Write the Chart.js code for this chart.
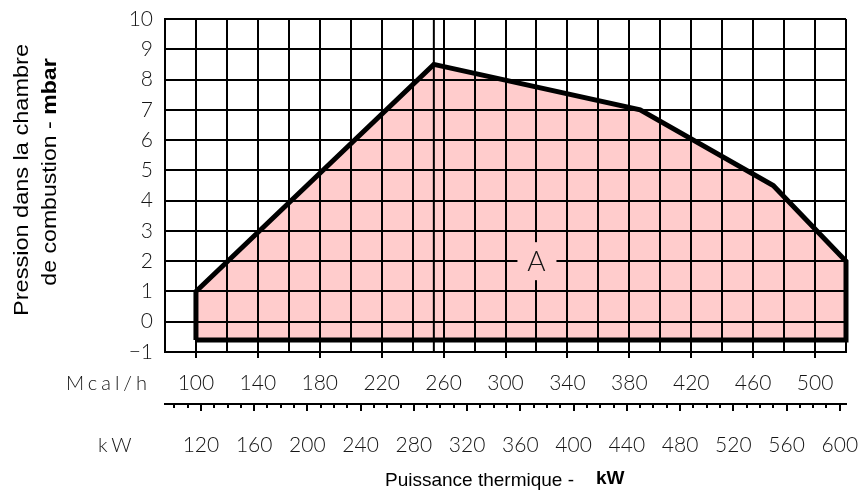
<!DOCTYPE html>
<html>
<head>
<meta charset="utf-8">
<script src="https://cdn.jsdelivr.net/npm/chart.js@4.4.1/dist/chart.umd.min.js"></script>
<style>
  html, body { margin: 0; padding: 0; background: #fff; }
  #wrap { width: 863px; height: 491px; }
</style>
</head>
<body>
<div id="wrap"><canvas id="chart" width="863" height="491"></canvas></div>
<script>
// working range of the burner: x in Mcal/h, y in mbar
const rangeMcal = [100, 100, 253.7, 387, 473, 520, 520, 100];
const rangeMbar = [-0.6, 1, 8.5, 7, 4.5, 2, -0.6, -0.6];
const peakMcal = 253.7;

const mcalLabels = [100, 140, 180, 220, 260, 300, 340, 380, 420, 460, 500];
const kwLabels = [120, 160, 200, 240, 280, 320, 360, 400, 440, 480, 520, 560, 600];

const MCAL_MIN = 80, MCAL_MAX = 520;
const KW_PER_MCAL = 1 / 0.86;

const tickFont = { family: 'Lato', weight: '300', size: 21 };
const textColor = '#151515';

function noSidePadding(s, h) {
  s.height = h;
  s.paddingLeft = 0;
  s.paddingRight = 0;
}

function rotatedLine(ctx, parts, cx, cy, stretch) {
  ctx.save();
  ctx.translate(cx, cy);
  ctx.rotate(-Math.PI / 2);
  ctx.scale(stretch, 1);
  ctx.textAlign = 'left';
  ctx.textBaseline = 'middle';
  let total = 0;
  const widths = parts.map(p => {
    ctx.font = p.font;
    const w = ctx.measureText(p.text).width;
    total += w;
    return w;
  });
  let pos = -total / 2;
  parts.forEach((p, i) => {
    ctx.font = p.font;
    ctx.fillText(p.text, pos, 0);
    pos += widths[i];
  });
  ctx.restore();
}

const extraText = {
  id: 'extraText',
  afterDraw(chart) {
    const ctx = chart.ctx;
    const x = chart.scales.x, y = chart.scales.y, x2 = chart.scales.x2;
    ctx.save();

    // small kW ticks between the labelled ones
    ctx.strokeStyle = '#000';
    ctx.lineWidth = 2;
    for (let v = 100; v <= 600; v += 10) {
      if (kwLabels.includes(v)) continue;
      const px = Math.round(x2.getPixelForValue(v));
      ctx.beginPath();
      ctx.moveTo(px, x2.top);
      ctx.lineTo(px, x2.top + 4);
      ctx.stroke();
    }

    // zone label
    const ax = x.getPixelForValue(320), ay = y.getPixelForValue(2);
    ctx.fillStyle = '#ffcccc';
    ctx.fillRect(ax - 19, ay - 19, 39, 38);
    ctx.fillStyle = textColor;
    ctx.font = '300 28px Lato';
    ctx.textAlign = 'center';
    ctx.textBaseline = 'middle';
    ctx.fillText('A', ax, ay + 1);

    // unit names of the two x rows
    ctx.font = '300 20px Lato';
    ctx.letterSpacing = '4px';
    ctx.textAlign = 'left';
    ctx.fillText('Mcal/h', 66, 384);
    ctx.fillText('kW', 98, 446);
    ctx.letterSpacing = '0px';

    // x title
    ctx.fillStyle = '#000';
    ctx.textBaseline = 'alphabetic';
    ctx.font = '19px "Liberation Sans", Arial';
    ctx.fillText('Puissance thermique -', 385, 486);
    ctx.font = 'bold 19px "Liberation Sans", Arial';
    ctx.fillText('kW', 596, 484);

    // y title, two lines
    const reg = '21px "Liberation Sans", Arial';
    const bold = 'bold 21px "Liberation Sans", Arial';
    rotatedLine(ctx, [{ text: 'Pression dans la chambre', font: reg }], 22, 180, 1.12);
    rotatedLine(ctx, [{ text: 'de combustion - ', font: reg }, { text: 'mbar', font: bold }], 50, 172, 1.1);

    ctx.restore();
  }
};

new Chart(document.getElementById('chart'), {
  type: 'line',
  data: {
    datasets: [
      {
        data: rangeMcal.map((v, i) => ({ x: v, y: rangeMbar[i] })),
        borderColor: '#000',
        borderWidth: 5,
        borderJoinStyle: 'miter',
        backgroundColor: '#ffcccc',
        fill: 'shape',
        pointRadius: 0,
        tension: 0,
        clip: false
      },
      {
        data: [{ x: peakMcal, y: -1 }, { x: peakMcal, y: 10 }],
        borderColor: '#000',
        borderWidth: 2,
        pointRadius: 0,
        fill: false
      }
    ]
  },
  options: {
    responsive: false,
    animation: false,
    layout: { padding: { top: 19, right: 17, bottom: 0, left: 0 } },
    plugins: {
      legend: { display: false },
      tooltip: { enabled: false },
      filler: { drawTime: 'beforeDraw' }
    },
    scales: {
      x: {
        type: 'linear',
        position: 'bottom',
        weight: 0,
        min: MCAL_MIN,
        max: MCAL_MAX,
        afterFit: s => noSidePadding(s, 52),
        grid: {
          color: '#000',
          lineWidth: 2,
          tickLength: 6,
          tickWidth: 2,
          tickColor: c => mcalLabels.includes(c.tick.value) ? '#000' : 'rgba(0,0,0,0)'
        },
        border: { color: '#000', width: 2 },
        ticks: {
          stepSize: 20,
          autoSkip: false,
          maxRotation: 0,
          padding: 13,
          color: textColor,
          font: tickFont,
          callback: v => mcalLabels.includes(v) ? String(v) : ''
        }
      },
      x2: {
        type: 'linear',
        position: 'bottom',
        weight: 1,
        min: MCAL_MIN * KW_PER_MCAL,
        max: MCAL_MAX * KW_PER_MCAL,
        afterFit: s => noSidePadding(s, 87),
        afterBuildTicks: s => { s.ticks = kwLabels.map(v => ({ value: v })); },
        grid: {
          drawOnChartArea: false,
          color: '#000',
          lineWidth: 2,
          tickLength: 7
        },
        border: { color: '#000', width: 2 },
        ticks: {
          autoSkip: false,
          maxRotation: 0,
          padding: 22,
          color: textColor,
          font: tickFont,
          callback: v => String(v)
        }
      },
      y: {
        type: 'linear',
        min: -1,
        max: 10,
        afterFit: s => { s.width = 165; s.paddingTop = 0; s.paddingBottom = 0; },
        grid: { color: '#000', lineWidth: 2, drawTicks: false },
        border: { color: '#000', width: 2 },
        ticks: {
          stepSize: 1,
          padding: 12,
          color: textColor,
          font: tickFont,
          callback: v => v < 0 ? '\u2212' + (-v) : String(v)
        }
      }
    }
  },
  plugins: [extraText]
});
</script>
</body>
</html>
